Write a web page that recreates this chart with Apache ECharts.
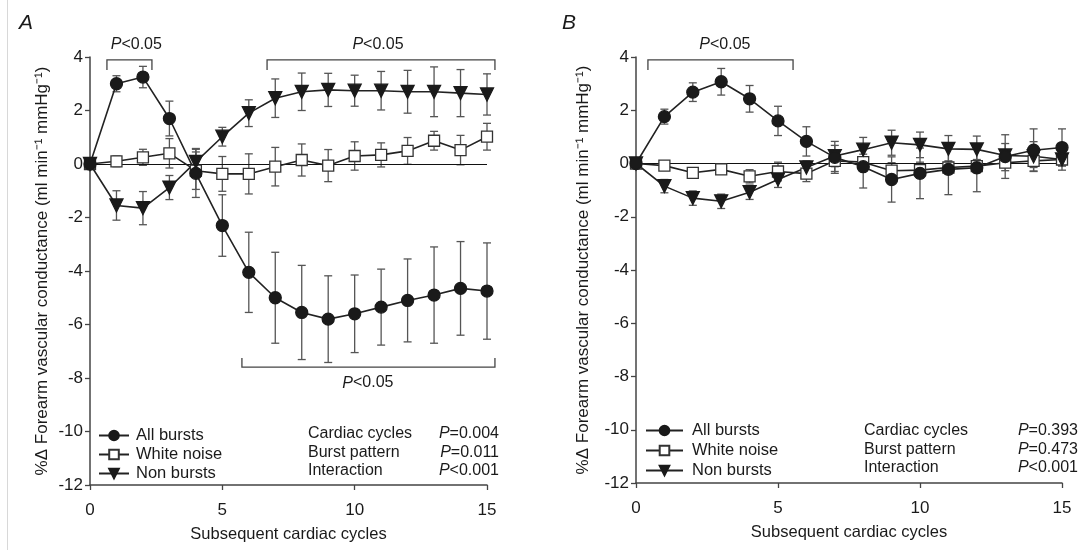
<!DOCTYPE html>
<html>
<head>
    <meta charset="utf-8">
    <title>Forearm vascular conductance</title>
    <script src="https://cdn.jsdelivr.net/npm/echarts@6/dist/echarts.min.js"></script>
    <style>
        html, body { margin: 0; padding: 0; background: #fff; }
        #main { width: 1082px; height: 550px; }
    </style>
</head>
<body>
<div id="main"></div>
<script>
    // x categories: subsequent cardiac cycles
    var cycles = [0, 1, 2, 3, 4, 5, 6, 7, 8, 9, 10, 11, 12, 13, 14, 15];
    var seriesNames = ['All bursts', 'White noise', 'Non bursts'];
    var xTicks = {min: 0, max: 15, interval: 5};
    var yTicks = {min: -12, max: 4, interval: 2};

    // panel A
    var allBurstsA = [0, 3.0, 3.25, 1.7, -0.35, -2.3, -4.05, -5.0, -5.55, -5.8, -5.6, -5.35, -5.1, -4.9, -4.65, -4.75];
    var allBurstsErrA = [0, 0.3, 0.4, 0.65, 0.9, 1.15, 1.5, 1.7, 1.76, 1.62, 1.45, 1.42, 1.55, 1.8, 1.75, 1.8];
    var whiteNoiseA = [0, 0.1, 0.25, 0.4, -0.25, -0.37, -0.37, -0.1, 0.15, -0.06, 0.3, 0.34, 0.49, 0.87, 0.52, 1.02];
    var whiteNoiseErrA = [0, 0.2, 0.3, 0.55, 0.7, 0.65, 0.75, 0.72, 0.6, 0.6, 0.53, 0.45, 0.5, 0.35, 0.55, 0.5];
    var nonBurstsA = [0, -1.55, -1.65, -0.88, 0.08, 1.02, 1.9, 2.46, 2.7, 2.77, 2.74, 2.74, 2.7, 2.7, 2.65, 2.6];
    var nonBurstsErrA = [0, 0.55, 0.62, 0.45, 0.5, 0.35, 0.5, 0.72, 0.7, 0.62, 0.58, 0.72, 0.8, 0.93, 0.88, 0.77];

    // panel B
    var allBurstsB = [0, 1.76, 2.68, 3.07, 2.43, 1.6, 0.83, 0.23, -0.12, -0.6, -0.37, -0.22, -0.16, 0.26, 0.5, 0.6];
    var allBurstsErrB = [0, 0.28, 0.35, 0.5, 0.5, 0.55, 0.55, 0.6, 0.8, 0.85, 0.95, 0.95, 0.9, 0.82, 0.8, 0.7];
    var whiteNoiseB = [0, -0.08, -0.35, -0.22, -0.48, -0.3, -0.38, 0.1, 0.05, -0.27, -0.25, -0.15, -0.1, 0.03, 0.1, 0.15];
    var whiteNoiseErrB = [0, 0.1, 0.15, 0.15, 0.25, 0.35, 0.3, 0.4, 0.3, 0.3, 0.3, 0.25, 0.25, 0.3, 0.25, 0.2];
    var nonBurstsB = [0, -0.85, -1.3, -1.42, -1.08, -0.6, -0.15, 0.28, 0.52, 0.78, 0.7, 0.55, 0.53, 0.3, 0.27, 0.15];
    var nonBurstsErrB = [0, 0.25, 0.27, 0.27, 0.27, 0.3, 0.25, 0.4, 0.46, 0.47, 0.48, 0.5, 0.5, 0.45, 0.55, 0.4];

    // significance brackets: [x1, x2, yTop, yLeg, labelX, labelY]
    var bracketsA = [
        [0.64, 2.34, 3.89, 3.51, 1.75, 4.45],
        [6.69, 15.3, 3.89, 3.51, 10.88, 4.45],
        [5.74, 15.3, -7.59, -7.25, 10.5, -8.19]
    ];
    var bracketsB = [
        [0.42, 5.53, 3.89, 3.51, 3.13, 4.45]
    ];

    // ANOVA results
    var statLabels = ['Cardiac cycles', 'Burst pattern', 'Interaction'];
    var statsA = ['{i|P}=0.004', '{i|P}=0.011', '{i|P}<0.001'];
    var statsB = ['{i|P}=0.393', '{i|P}=0.473', '{i|P}<0.001'];

    var FONT = '"Liberation Sans", Arial, sans-serif';
    var INK = '#1a1a1a';
    var BAR = '#555';

    function pairs(ys) {
        return cycles.map(function (x, i) { return [x, ys[i]]; });
    }
    function errData(ys, es) {
        return cycles.map(function (x, i) { return [x, ys[i], es[i]]; });
    }

    function renderErr(params, api) {
        var e = api.value(2);
        if (!e) return null;
        var x = api.value(0), y = api.value(1);
        var hi = api.coord([x, y + e]);
        var lo = api.coord([x, y - e]);
        var w = 4;
        var st = {stroke: BAR, lineWidth: 1.3};
        return {
            type: 'group',
            children: [
                {type: 'line', shape: {x1: hi[0], y1: hi[1], x2: lo[0], y2: lo[1]}, style: st},
                {type: 'line', shape: {x1: hi[0] - w, y1: hi[1], x2: hi[0] + w, y2: hi[1]}, style: st},
                {type: 'line', shape: {x1: lo[0] - w, y1: lo[1], x2: lo[0] + w, y2: lo[1]}, style: st}
            ]
        };
    }

    function renderBracket(params, api) {
        var x1 = api.value(0), x2 = api.value(1), yt = api.value(2), yl = api.value(3);
        var a = api.coord([x1, yl]), b = api.coord([x1, yt]), c = api.coord([x2, yt]), d = api.coord([x2, yl]);
        var t = api.coord([api.value(4), api.value(5)]);
        return {
            type: 'group',
            children: [
                {type: 'polyline', shape: {points: [a, b, c, d]}, style: {stroke: '#444', lineWidth: 1.3, fill: null}},
                {
                    type: 'text', x: t[0], y: t[1],
                    style: {
                        text: '{i|P}<0.05', align: 'center', verticalAlign: 'middle',
                        font: '16px ' + FONT, fill: INK,
                        rich: {i: {fontStyle: 'italic', fontSize: 16, fontFamily: FONT, fill: INK}}
                    }
                }
            ]
        };
    }

    var tri = 'path://M0,0 L10,0 L5,9 Z';
    var markerStyles = [
        {symbol: 'circle', size: 12, color: INK, border: INK},
        {symbol: 'rect', size: 11, color: '#fff', border: '#333'},
        {symbol: tri, size: 13, color: INK, border: INK}
    ];

    function panelSeries(idx, ys, es, brackets) {
        var out = [];
        for (var k = 0; k < 3; k++) {
            out.push({
                type: 'custom', name: seriesNames[k] + ' err', xAxisIndex: idx, yAxisIndex: idx,
                renderItem: renderErr, data: errData(ys[k], es[k]), z: 1, silent: true
            });
        }
        var order = [1, 2, 0];
        order.forEach(function (k) {
            var m = markerStyles[k];
            var s = {
                type: 'line', name: seriesNames[k], xAxisIndex: idx, yAxisIndex: idx,
                data: pairs(ys[k]), symbol: m.symbol, symbolSize: m.size, showAllSymbol: true,
                lineStyle: {color: '#222', width: 1.6},
                itemStyle: {color: m.color, borderColor: m.border, borderWidth: 1.3},
                z: 3, animation: false
            };
            if (k === 1) {
                s.markLine = {
                    silent: true, symbol: 'none', label: {show: false},
                    lineStyle: {color: '#111', width: 1.2, type: 'solid'},
                    data: [{yAxis: 0}], z: 2
                };
            }
            out.push(s);
        });
        out.push({
            type: 'custom', name: 'brackets', xAxisIndex: idx, yAxisIndex: idx,
            renderItem: renderBracket, data: brackets, silent: true, clip: false, z: 4
        });
        return out;
    }

    function xAxis(idx) {
        return {
            type: 'value', gridIndex: idx, min: xTicks.min, max: xTicks.max, interval: xTicks.interval,
            axisLine: {onZero: false, lineStyle: {color: '#444', width: 1.5}},
            axisTick: {show: true, length: 5, lineStyle: {color: '#444', width: 1.3}},
            splitLine: {show: false},
            axisLabel: {fontSize: 17, color: INK, fontFamily: FONT, margin: 17},
            name: 'Subsequent cardiac cycles', nameLocation: 'middle', nameGap: 41,
            nameTextStyle: {fontSize: 16.5, color: INK, fontFamily: FONT}
        };
    }
    function yAxis(idx, gap) {
        return {
            type: 'value', gridIndex: idx, min: yTicks.min, max: yTicks.max, interval: yTicks.interval,
            axisLine: {onZero: false, lineStyle: {color: '#444', width: 1.5}},
            axisTick: {show: true, length: 5, lineStyle: {color: '#444', width: 1.3}},
            splitLine: {show: false},
            axisLabel: {fontSize: 17, color: INK, fontFamily: FONT, margin: 7},
            name: '%\u0394 Forearm vascular conductance (ml min\u207B\u00B9 mmHg\u207B\u00B9)',
            nameLocation: 'middle', nameGap: gap, nameRotate: 90,
            nameTextStyle: {fontSize: 17, color: INK, fontFamily: FONT}
        };
    }

    function legend(left, top, width, pad, gap) {
        return {
            orient: 'vertical', left: left, top: top, itemWidth: width, itemHeight: 12, itemGap: gap,
            data: seriesNames, selectedMode: false,
            textStyle: {fontSize: 16.5, color: INK, fontFamily: FONT, padding: [0, 0, 0, pad]}
        };
    }

    function statsGraphic(left, right, top, vals) {
        var g = [];
        statLabels.forEach(function (s, i) {
            g.push({type: 'text', left: left, top: top + i * 18.5,
                style: {text: s, font: '16px ' + FONT, fill: INK}});
            g.push({type: 'text', right: right, top: top + i * 18.5,
                style: {text: vals[i], font: '16px ' + FONT, fill: INK, align: 'right',
                    rich: {i: {fontStyle: 'italic', fontSize: 16, fontFamily: FONT, fill: INK}}}});
        });
        return g;
    }

    var graphic = [
        {type: 'line', shape: {x1: 7.5, y1: 0, x2: 7.5, y2: 550}, style: {stroke: '#d8d8d8', lineWidth: 1}},
        {type: 'text', left: 19, top: 13, style: {text: 'A', font: 'italic 21px ' + FONT, fill: INK}},
        {type: 'text', left: 562, top: 13, style: {text: 'B', font: 'italic 21px ' + FONT, fill: INK}}
    ].concat(statsGraphic(308, 583, 426, statsA)).concat(statsGraphic(864, 4, 423, statsB));

    var option = {
        backgroundColor: '#fff',
        animation: false,
        textStyle: {fontFamily: FONT},
        grid: [
            {left: 90, right: 595, top: 57, bottom: 65},
            {left: 636, right: 20, top: 57, bottom: 67}
        ],
        xAxis: [xAxis(0), xAxis(1)],
        yAxis: [yAxis(0, 39), yAxis(1, 44)],
        legend: [legend(93, 422, 30, 2, 2), legend(640, 417, 37, 4, 3)],
        series: panelSeries(0, [allBurstsA, whiteNoiseA, nonBurstsA], [allBurstsErrA, whiteNoiseErrA, nonBurstsErrA], bracketsA)
            .concat(panelSeries(1, [allBurstsB, whiteNoiseB, nonBurstsB], [allBurstsErrB, whiteNoiseErrB, nonBurstsErrB], bracketsB)),
        graphic: graphic
    };

    var myChart = echarts.init(document.getElementById('main'));
    myChart.setOption(option);
</script>
</body>
</html>
